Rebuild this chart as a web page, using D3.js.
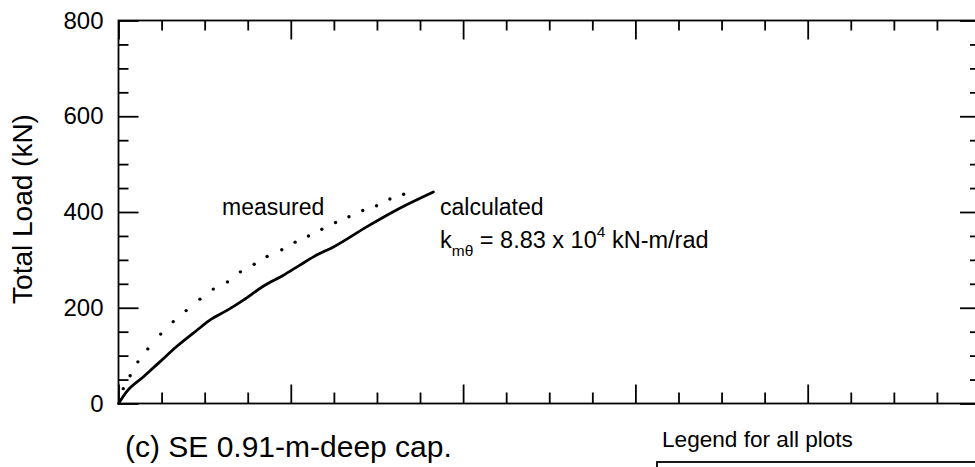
<!DOCTYPE html>
<html>
<head>
<meta charset="utf-8">
<script src="https://cdn.jsdelivr.net/npm/d3@7"></script>
<style>
  html, body { margin: 0; padding: 0; background: #fff; }
  svg { display: block; font-family: "Liberation Sans", Arial, Helvetica, sans-serif; }
</style>
</head>
<body>
<svg id="chart" width="975" height="467"></svg>
<script>
// ---- data ----
const measuredX = [0, 0.11, 0.27, 0.45, 0.68, 0.98, 1.27, 1.57, 1.89, 2.20, 2.53, 2.83, 3.15, 3.45, 3.79, 4.10, 4.41, 4.72, 5.04, 5.35, 5.67, 5.99, 6.30, 6.62];
const measuredY = [0, 31, 58, 87, 114, 145, 171, 194, 218, 239, 254, 275, 291, 307, 321, 337, 350, 364, 378, 390, 403, 413, 427, 437];
const calculatedX = [0, 0.19, 0.58, 0.96, 1.35, 1.82, 2.12, 2.51, 2.90, 3.36, 3.83, 4.21, 4.60, 4.99, 5.76, 6.53, 7.31];
const calculatedY = [0, 25, 56, 87, 119, 153, 174, 194, 216, 245, 268, 289, 310, 327, 369, 408, 442];
const yTickValues = [0, 200, 400, 600, 800];
const yMinorTicks = [0, 50, 100, 150, 200, 250, 300, 350, 400, 450, 500, 550, 600, 650, 700, 750, 800];
const xMajorTicks = [0, 4, 8, 12, 16, 20];
const xMinorTicks = d3.range(0, 21, 1);
const yTitle = "Total Load (kN)";
const panelLabel = "(c) SE 0.91-m-deep cap.";
const legendTitle = "Legend for all plots";

(function () {
const svg = d3.select("#chart");
const x = d3.scaleLinear().domain([0, 20]).range([118.5, 980]);
const y = d3.scaleLinear().domain([0, 800]).range([403.5, 20.5]);

const g = svg.append("g");
const axStroke = 1.8;
const fontFam = "'Liberation Sans', Arial, Helvetica, sans-serif";

// frame
g.append("rect")
  .attr("x", x(0)).attr("y", y(800))
  .attr("width", x(20) - x(0)).attr("height", y(0) - y(800))
  .attr("fill", "none").attr("stroke", "#000").attr("stroke-width", axStroke);

function isMajorX(v) { return xMajorTicks.includes(v); }
function isMajorY(v) { return yTickValues.includes(v); }

// bottom axis (inward ticks)
const axB = d3.axisBottom(x).tickValues(xMinorTicks)
  .tickSizeInner(0).tickSizeOuter(0).tickFormat("");
const gb = g.append("g").attr("transform", `translate(0,${y(0)})`).call(axB);
gb.select(".domain").remove();
gb.selectAll(".tick line").attr("y2", d => isMajorX(d) ? -19 : -11)
  .attr("stroke", "#000").attr("stroke-width", 1.8);

// top axis
const axT = d3.axisTop(x).tickValues(xMinorTicks)
  .tickSizeInner(0).tickSizeOuter(0).tickFormat("");
const gt = g.append("g").attr("transform", `translate(0,${y(800)})`).call(axT);
gt.select(".domain").remove();
gt.selectAll(".tick line").attr("y2", d => isMajorX(d) ? 19 : 10)
  .attr("stroke", "#000").attr("stroke-width", 1.8);

// left axis
const axL = d3.axisLeft(y).tickValues(yMinorTicks)
  .tickSizeInner(0).tickSizeOuter(0).tickPadding(15)
  .tickFormat(d => isMajorY(d) ? d : "");
const gl = g.append("g").attr("transform", `translate(${x(0)},0)`).call(axL);
gl.select(".domain").remove();
gl.selectAll(".tick line").attr("x2", d => isMajorY(d) ? 20 : 10)
  .attr("stroke", "#000").attr("stroke-width", 1.8);
gl.selectAll(".tick text")
  .attr("font-size", 24).attr("fill", "#000")
  .attr("font-family", fontFam);

// right axis
const axR = d3.axisRight(y).tickValues(yMinorTicks)
  .tickSizeInner(0).tickSizeOuter(0).tickFormat("");
const gr = g.append("g").attr("transform", `translate(${x(20)},0)`).call(axR);
gr.select(".domain").remove();
gr.selectAll(".tick line").attr("x2", d => isMajorY(d) ? -20 : -10)
  .attr("stroke", "#000").attr("stroke-width", 1.8);

// calculated curve (solid)
const calc = calculatedX.map((v, i) => [v, calculatedY[i]]);
g.append("path")
  .datum(calc)
  .attr("fill", "none").attr("stroke", "#000").attr("stroke-width", 2.8)
  .attr("stroke-linejoin", "round").attr("stroke-linecap", "round")
  .attr("d", d3.line().x(d => x(d[0])).y(d => y(d[1])).curve(d3.curveMonotoneX));

// measured curve (dots)
const meas = measuredX.map((v, i) => [v, measuredY[i]]);
g.selectAll("circle.meas").data(meas.slice(1)).enter().append("circle")
  .attr("class", "meas")
  .attr("cx", d => x(d[0])).attr("cy", d => y(d[1]))
  .attr("r", 1.7).attr("fill", "#000");

// annotations
g.append("text").attr("x", 222).attr("y", 215).attr("font-size", 23)
  .attr("font-family", fontFam).text("measured");
g.append("text").attr("x", 440).attr("y", 215).attr("font-size", 23)
  .attr("font-family", fontFam).text("calculated");

const kt = g.append("text").attr("x", 440).attr("y", 248).attr("font-size", 23.5)
  .attr("font-family", fontFam);
kt.append("tspan").text("k");
kt.append("tspan").attr("dy", 8).attr("font-size", 15.5).text("mθ");
kt.append("tspan").attr("dy", -8).text(" = 8.83 x 10");
kt.append("tspan").attr("dy", -11).attr("font-size", 15.5).text("4");
kt.append("tspan").attr("dy", 11).text(" kN-m/rad");

// y title
svg.append("text")
  .attr("transform", "translate(32,209) rotate(-90)")
  .attr("text-anchor", "middle").attr("font-size", 28)
  .attr("font-family", fontFam).text(yTitle);

// panel label
svg.append("text").attr("x", 125).attr("y", 457).attr("font-size", 30)
  .attr("font-family", fontFam).text(panelLabel);

// legend title and box
svg.append("text").attr("x", 662).attr("y", 447).attr("font-size", 22.6)
  .attr("font-family", fontFam).text(legendTitle);
svg.append("rect").attr("x", 657).attr("y", 462).attr("width", 400).attr("height", 60)
  .attr("fill", "none").attr("stroke", "#000").attr("stroke-width", 1.8);
})();
</script>
</body>
</html>
